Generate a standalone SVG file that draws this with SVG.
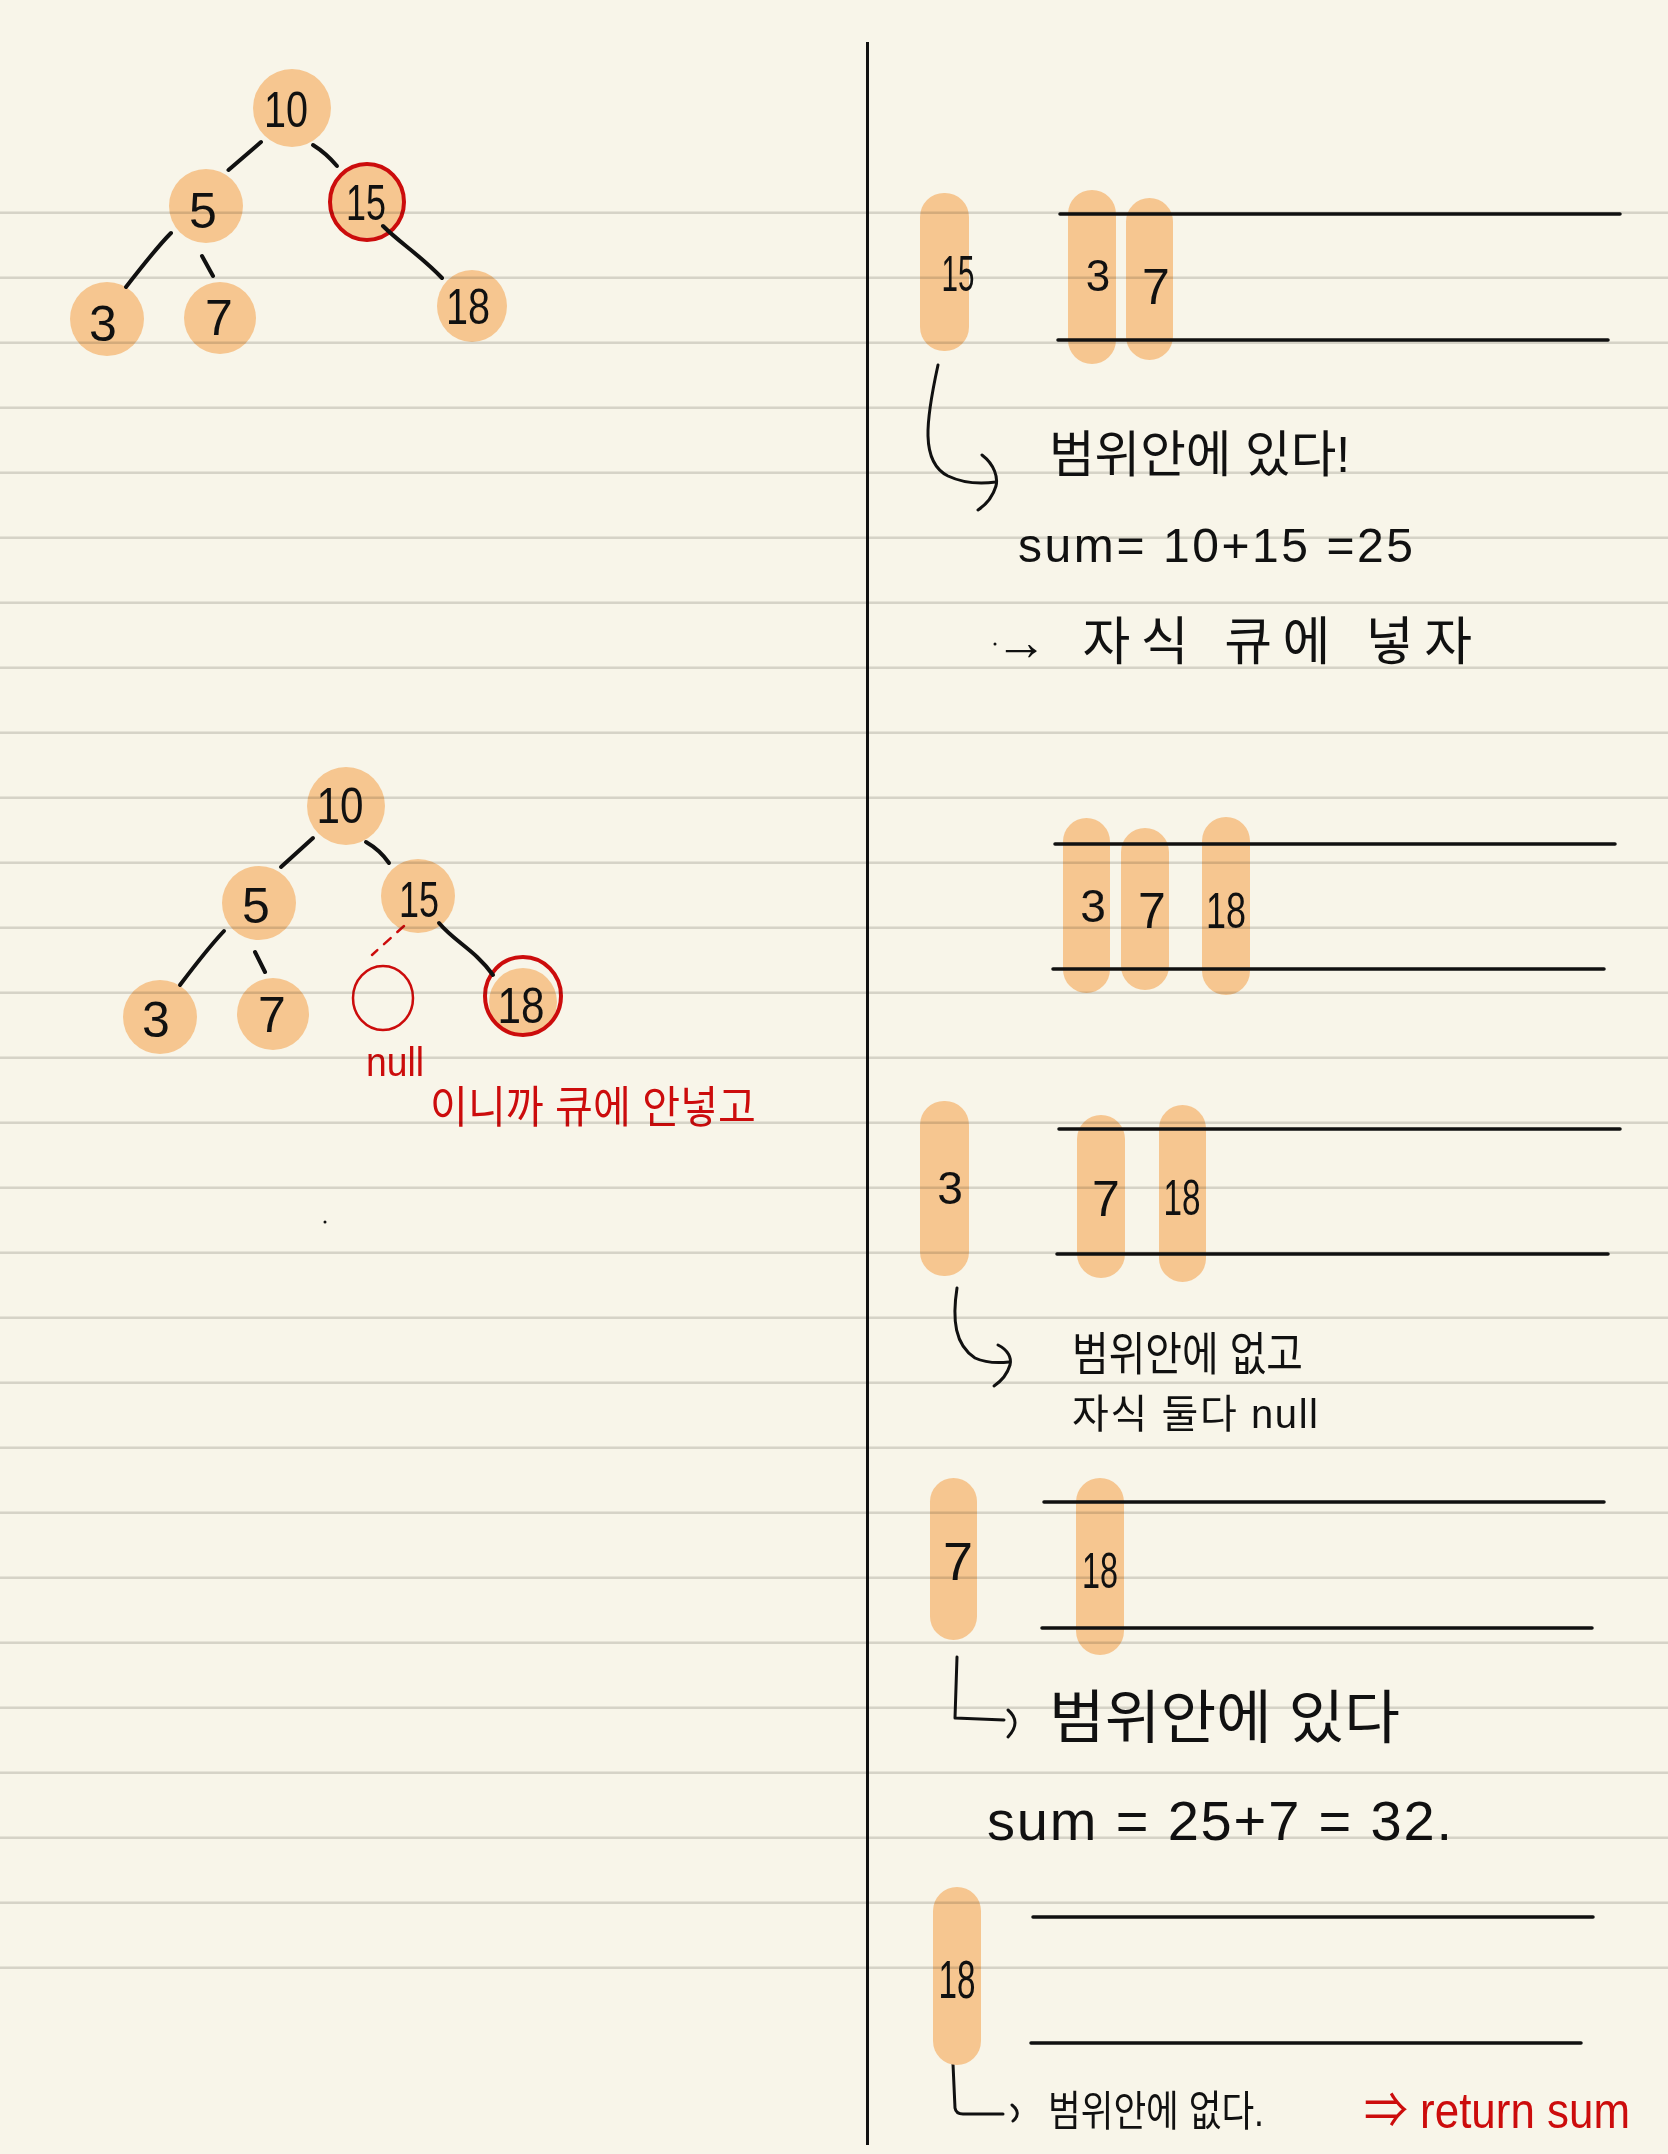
<svg xmlns="http://www.w3.org/2000/svg" width="1668" height="2154" viewBox="0 0 1668 2154">
<style>
.bg{fill:#f8f5e9}
.rule{stroke:#dcdcda;stroke-width:2.5;fill:none;mix-blend-mode:multiply}
.nd{fill:#f6c690}
.pill{fill:#f6c690}
.num{font-family:"Liberation Sans","DejaVu Sans",sans-serif;font-size:50px;fill:#111;text-anchor:middle}
.hw{font-family:"Liberation Sans","Noto Sans CJK KR",sans-serif;fill:#111}
.red{fill:#cc0c0c}
.ring{fill:none;stroke:#cc0c0c;stroke-width:4}
.edge{fill:none;stroke:#111;stroke-width:4;stroke-linecap:round;stroke-linejoin:round}
.q{fill:none;stroke:#111;stroke-width:3.5;stroke-linecap:round}
.arr{fill:none;stroke:#111;stroke-width:3;stroke-linecap:round;stroke-linejoin:round}
</style>
<rect class="bg" x="0" y="0" width="1668" height="2154"/>

<!-- divider -->
<line x1="867.5" y1="42" x2="867.5" y2="2145" stroke="#111" stroke-width="3"/>

<!-- Tree 1 -->
<g id="t1-n10"><circle class="nd" cx="292" cy="108" r="39"/><text class="num" x="286" y="127" textLength="44" lengthAdjust="spacingAndGlyphs">10</text></g>
<g id="t1-n5"><circle class="nd" cx="206" cy="206" r="37"/><text class="num" x="203" y="228">5</text></g>
<g id="t1-n15"><circle class="nd" cx="367" cy="202" r="36"/><text class="num" x="366" y="220" textLength="40" lengthAdjust="spacingAndGlyphs">15</text><ellipse class="ring" cx="367" cy="202" rx="37" ry="38"/></g>
<g id="t1-n3"><circle class="nd" cx="107" cy="319" r="37"/><text class="num" x="103" y="341">3</text></g>
<g id="t1-n7"><circle class="nd" cx="220" cy="318" r="36"/><text class="num" x="219" y="335">7</text></g>
<g id="t1-n18"><ellipse class="nd" cx="472" cy="306" rx="35" ry="36"/><text class="num" x="468" y="324" textLength="44" lengthAdjust="spacingAndGlyphs">18</text></g>

<!-- Tree 2 -->
<g id="t2-n10"><circle class="nd" cx="346" cy="806" r="39"/><text class="num" x="340" y="823" textLength="47" lengthAdjust="spacingAndGlyphs">10</text></g>
<g id="t2-n5"><circle class="nd" cx="259" cy="903" r="37"/><text class="num" x="256" y="923">5</text></g>
<g id="t2-n15"><circle class="nd" cx="418" cy="896" r="37"/><text class="num" x="419" y="917" textLength="40" lengthAdjust="spacingAndGlyphs">15</text></g>
<g id="t2-n3"><circle class="nd" cx="160" cy="1017" r="37"/><text class="num" x="156" y="1037">3</text></g>
<g id="t2-n7"><circle class="nd" cx="273" cy="1014" r="36"/><text class="num" x="272" y="1032">7</text></g>
<g id="t2-null"><ellipse cx="383" cy="998" rx="30" ry="32" fill="none" stroke="#cc0c0c" stroke-width="2.5"/><text class="hw red" x="366" y="1076" font-size="40" textLength="58" lengthAdjust="spacingAndGlyphs">null</text></g>
<g id="t2-n18"><circle class="nd" cx="523" cy="1002" r="34"/><text class="num" x="521" y="1023" textLength="47" lengthAdjust="spacingAndGlyphs">18</text><ellipse class="ring" cx="523" cy="996" rx="38" ry="39"/></g>
<g id="t2-note"><text class="hw red" x="430" y="1123" font-size="44" textLength="326" lengthAdjust="spacingAndGlyphs">이니까 큐에 안넣고</text></g>

<!-- connectors -->
<g id="connectors">
<path class="edge" d="M261 142 L228.5 170"/>
<path class="edge" d="M313 145 Q326 153 337 166"/>
<path class="edge" d="M171 233 Q157 247 126 287"/>
<path class="edge" d="M202 256 L213 276"/>
<path class="edge" d="M383 226 C400 243 420 255 442 278"/>
<path class="edge" d="M313 838 L281 867"/>
<path class="edge" d="M366 842 Q380 850 389 863"/>
<path class="edge" d="M224 931 Q208 948 180 985"/>
<path class="edge" d="M255 952 L265 972"/>
<path d="M404 926 L372 955" fill="none" stroke="#cc0c0c" stroke-width="2.5" stroke-dasharray="9 9" stroke-linecap="round"/>
<path class="edge" d="M439 923 C455 942 475 950 493 975"/>
<path class="arr" d="M938 365 C926 420 920 462 948 476 C965 484 982 484 996 482"/>
<path class="arr" d="M982 455 C995 465 998 478 996 486 C993 496 987 504 978 510"/>
<path class="arr" d="M957 1288 C952 1320 955 1345 975 1358 C988 1364 1000 1363 1009 1362"/>
<path class="arr" d="M998 1345 C1008 1350 1012 1358 1010 1365 C1007 1375 1000 1382 994 1386"/>
<path class="arr" d="M957 1657 L955 1718 L1004 1720"/>
<path class="arr" d="M1008 1710 Q1022 1722 1008 1737"/>
<path class="arr" d="M953 2064 L955 2108 Q956 2114 963 2114 L1003 2114"/>
<path class="arr" d="M1012 2105 Q1022 2113 1013 2121"/>
</g>

<!-- Step 1 -->
<g id="s1-cur"><rect class="pill" x="920" y="193" width="49" height="158" rx="24"/><text class="num" x="958" y="291" font-size="48" textLength="33" lengthAdjust="spacingAndGlyphs">15</text></g>
<g id="s1-q3"><rect class="pill" x="1068" y="190" width="48" height="174" rx="24"/><text class="num" x="1098" y="291" style="font-size:44px">3</text></g>
<g id="s1-q7"><rect class="pill" x="1126" y="198" width="47" height="162" rx="23.5"/><text class="num" x="1156" y="304">7</text></g>
<g id="s1-queue"><path class="q" d="M1060 214 L1620 214 M1058 340 L1608 340"/></g>
<g id="s1-text">
<text class="hw" x="1049" y="472" font-size="50" textLength="301" lengthAdjust="spacingAndGlyphs">범위안에 있다!</text>
<text class="hw" x="1018" y="562" font-size="48" textLength="395">sum= 10+15 =25</text>
<text class="hw" x="995" y="660" font-size="52" textLength="477">→ 자식 큐에 넣자</text>
</g>
<circle cx="995" cy="644" r="1.5" fill="#111"/>

<!-- Step 2 -->
<g id="s2-q3"><rect class="pill" x="1063" y="818" width="47" height="175" rx="23.5"/><text class="num" x="1093" y="922" style="font-size:46px">3</text></g>
<g id="s2-q7"><rect class="pill" x="1121" y="828" width="48" height="162" rx="24"/><text class="num" x="1152" y="928">7</text></g>
<g id="s2-q18"><rect class="pill" x="1202" y="817" width="48" height="178" rx="24"/><text class="num" x="1226" y="928" textLength="40" lengthAdjust="spacingAndGlyphs">18</text></g>
<g id="s2-queue"><path class="q" d="M1055 844 L1615 844 M1053 969 L1604 969"/></g>

<!-- Step 3 -->
<g id="s3-cur"><rect class="pill" x="920" y="1101" width="49" height="175" rx="24"/><text class="num" x="950" y="1204" style="font-size:46px">3</text></g>
<g id="s3-q7"><rect class="pill" x="1077" y="1115" width="48" height="163" rx="24"/><text class="num" x="1106" y="1216">7</text></g>
<g id="s3-q18"><rect class="pill" x="1159" y="1105" width="47" height="177" rx="23.5"/><text class="num" x="1182" y="1215" textLength="37" lengthAdjust="spacingAndGlyphs">18</text></g>
<g id="s3-queue"><path class="q" d="M1059 1129 L1620 1129 M1057 1254 L1608 1254"/></g>
<g id="s3-text">
<text class="hw" x="1072" y="1370" font-size="46" textLength="231" lengthAdjust="spacingAndGlyphs">범위안에 없고</text>
<text class="hw" x="1072" y="1428" font-size="40" textLength="246">자식 둘다 null</text>
</g>

<!-- Step 4 -->
<g id="s4-cur"><rect class="pill" x="930" y="1478" width="47" height="162" rx="23.5"/><text class="num" x="958" y="1580" style="font-size:54px">7</text></g>
<g id="s4-q18"><rect class="pill" x="1076" y="1478" width="48" height="177" rx="24"/><text class="num" x="1100" y="1588" textLength="36" lengthAdjust="spacingAndGlyphs">18</text></g>
<g id="s4-queue"><path class="q" d="M1044 1502 L1604 1502 M1042 1628 L1592 1628"/></g>
<g id="s4-text">
<text class="hw" x="1049" y="1738" font-size="58" textLength="351" lengthAdjust="spacingAndGlyphs">범위안에 있다</text>
<text class="hw" x="987" y="1840" font-size="56" textLength="465">sum = 25+7 = 32.</text>
</g>

<!-- Step 5 -->
<g id="s5-cur"><rect class="pill" x="933" y="1887" width="48" height="178" rx="24"/><text class="num" x="957" y="1998" style="font-size:54px" textLength="37" lengthAdjust="spacingAndGlyphs">18</text></g>
<g id="s5-queue"><path class="q" d="M1033 1917 L1593 1917 M1031 2043 L1581 2043"/></g>
<g id="s5-text">
<text class="hw" x="1048" y="2126" font-size="42" textLength="216" lengthAdjust="spacingAndGlyphs">범위안에 없다.</text>
<text class="hw red" x="1364" y="2128" font-size="50" textLength="266" lengthAdjust="spacingAndGlyphs">⇒ return sum</text>
</g>

<circle cx="325" cy="1222" r="1.5" fill="#111"/>

<!-- ruled paper lines -->
<path class="rule" d="M0 212.7H1668M0 277.7H1668M0 342.7H1668M0 407.7H1668M0 472.7H1668M0 537.7H1668M0 602.7H1668M0 667.7H1668M0 732.7H1668M0 797.7H1668M0 862.7H1668M0 927.7H1668M0 992.7H1668M0 1057.7H1668M0 1122.7H1668M0 1187.7H1668M0 1252.7H1668M0 1317.7H1668M0 1382.7H1668M0 1447.7H1668M0 1512.7H1668M0 1577.7H1668M0 1642.7H1668M0 1707.7H1668M0 1772.7H1668M0 1837.7H1668M0 1902.7H1668M0 1967.7H1668"/>
</svg>
